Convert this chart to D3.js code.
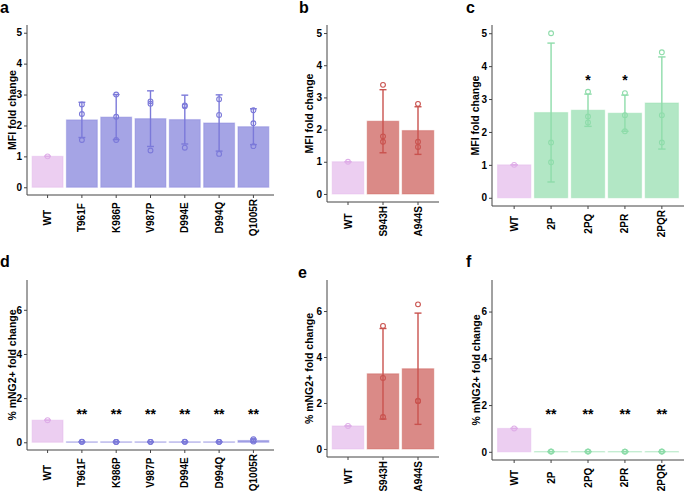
<!DOCTYPE html>
<html><head><meta charset="utf-8">
<script src="https://cdn.jsdelivr.net/npm/d3@7"></script>
<style>
body{margin:0;background:#fff}
svg{display:block}
text{font-family:"Liberation Sans",Arial,Helvetica,sans-serif;}
</style>
</head><body>
<svg id="chart" width="685" height="493"></svg>
<script>
// ---------- data ----------
const catsA = ["WT","T961F","K986P","V987P","D994E","D994Q","Q1005R"];
const catsB = ["WT","S943H","A944S"];
const catsC = ["WT","2P","2PQ","2PR","2PQR"];

const meanA = [1.00, 2.18, 2.27, 2.22, 2.19, 2.08, 1.96];
const sdA   = [0.00, 0.57, 0.73, 0.90, 0.79, 0.91, 0.58];
const ptsA  = [[1.00],[2.68,2.37,1.53],[3.00,2.28,1.53],[2.78,2.70,1.19],[2.65,2.62,1.28],[2.85,2.34,1.08],[2.49,2.07,1.33]];

const meanB = [1.00, 2.26, 1.97];
const sdB   = [0.00, 0.98, 0.74];
const ptsB  = [[1.00],[3.39,1.79,1.62],[2.80,1.62,1.46]];

const meanC = [1.00, 2.59, 2.66, 2.57, 2.88];
const sdC   = [0.00, 2.11, 0.49, 0.55, 1.40];
const ptsC  = [[1.00],[5.00,1.68,1.08],[3.22,2.47,2.29],[3.18,2.51,2.02],[4.42,2.51,1.68]];
const starsC = ["","","*","*",""];
const starYC = 3.66;

const meanD = [1.00, 0.02, 0.02, 0.02, 0.02, 0.02, 0.08];
const sdD   = [0.00, 0.01, 0.01, 0.01, 0.01, 0.01, 0.06];
const ptsD  = [[1.00],[0.02,0.02,0.03],[0.01,0.02,0.02],[0.02,0.02,0.02],[0.02,0.02,0.03],[0.02,0.02,0.02],[0.03,0.08,0.14]];
const starsD = ["","**","**","**","**","**","**"];
const starYD = 1.43;

const meanE = [1.00, 3.27, 3.49];
const sdE   = [0.00, 1.97, 2.42];
const ptsE  = [[1.00],[5.35,3.09,1.39],[6.29,2.10,2.08]];

const meanF = [1.00, 0.01, 0.01, 0.01, 0.01];
const sdF   = [0.00, 0.005, 0.005, 0.005, 0.005];
const ptsF  = [[1.00],[0.01,0.01,0.02],[0.01,0.01,0.02],[0.01,0.01,0.01],[0.01,0.02,0.01]];
const starsF = ["","**","**","**","**"];
const starYF = 1.76;

const ticksMFI = [0,1,2,3,4,5];
const ticksNG  = [0,2,4,6];
const titleMFI = "MFI fold change";
const titleNG  = "% mNG2+ fold change";

// ---------- styles ----------
const wtColor = "#dfaee8";
const blue = "#7b79d9", red = "#c9524e", green = "#8edcaa";

const panels = [
  {letter:"a", lx:0, ly:13, cats:catsA, mean:meanA, sd:sdA, pts:ptsA, stars:null, ymax:5, ticks:ticksMFI, title:titleMFI, tx:12, col:blue,  f:{x0:27, x1:274, y0:25, y1:195}},
  {letter:"b", lx:299, ly:13, cats:catsB, mean:meanB, sd:sdB, pts:ptsB, stars:null, ymax:5, ticks:ticksMFI, title:titleMFI, tx:309, col:red,   f:{x0:327, x1:439, y0:25, y1:202}},
  {letter:"c", lx:466, ly:13, cats:catsC, mean:meanC, sd:sdC, pts:ptsC, stars:starsC, starY:starYC, ymax:5, ticks:ticksMFI, title:titleMFI, tx:475, col:green, f:{x0:492, x1:684, y0:25, y1:206}},
  {letter:"d", lx:0, ly:267, cats:catsA, mean:meanD, sd:sdD, pts:ptsD, stars:starsD, starY:starYD, ymax:7, ticks:ticksNG, title:titleNG, tx:12, col:blue,  f:{x0:27, x1:274, y0:280, y1:450}},
  {letter:"e", lx:298, ly:278, cats:catsB, mean:meanE, sd:sdE, pts:ptsE, stars:null, ymax:7, ticks:ticksNG, title:titleNG, tx:309, col:red,   f:{x0:327, x1:439, y0:280, y1:457}},
  {letter:"f", lx:466, ly:267, cats:catsC, mean:meanF, sd:sdF, pts:ptsF, stars:starsF, starY:starYF, ymax:7, ticks:ticksNG, title:titleNG, tx:476, col:green, f:{x0:492, x1:684, y0:280, y1:460}}
];

const svg = d3.select("#chart");

panels.forEach(p => {
  const g = svg.append("g");
  const x = d3.scaleBand().domain(p.cats).range([p.f.x0, p.f.x1]).paddingInner(0.1).paddingOuter(0.15);
  const step = x.step();
  const y = d3.scaleLinear().domain([-0.05*p.ymax, 1.05*p.ymax]).range([p.f.y1, p.f.y0]);
  const cx = c => x(c) + x.bandwidth()/2;
  const colOf = i => i === 0 ? wtColor : p.col;

  const rows = p.cats.map((c,i) => ({c, i, m:p.mean[i], s:p.sd[i], pts:p.pts[i]}));

  // bars
  g.selectAll("rect.bar").data(rows).join("rect")
    .attr("x", d => x(d.c)).attr("width", x.bandwidth())
    .attr("y", d => y(d.m)).attr("height", d => Math.max(0.4, y(0) - y(d.m)))
    .attr("fill", d => colOf(d.i)).attr("fill-opacity", d => d.i===0 ? 0.6 : 0.68)
    .attr("stroke", d => colOf(d.i)).attr("stroke-opacity", 0.35).attr("stroke-width", 1.2);

  // error bars
  const cw = 0.2 * step;
  const eg = g.selectAll("g.err").data(rows).join("g").attr("stroke", d => colOf(d.i)).attr("stroke-width", 1.4).attr("fill","none");
  eg.append("line").attr("x1", d => cx(d.c)).attr("x2", d => cx(d.c)).attr("y1", d => y(d.m - d.s)).attr("y2", d => y(d.m + d.s));
  eg.append("line").attr("x1", d => cx(d.c)-cw/2).attr("x2", d => cx(d.c)+cw/2).attr("y1", d => y(d.m + d.s)).attr("y2", d => y(d.m + d.s));
  eg.append("line").attr("x1", d => cx(d.c)-cw/2).attr("x2", d => cx(d.c)+cw/2).attr("y1", d => y(d.m - d.s)).attr("y2", d => y(d.m - d.s));

  // points
  const pts = rows.flatMap(d => d.pts.map(v => ({c:d.c, i:d.i, v})));
  g.selectAll("circle.pt").data(pts).join("circle")
    .attr("cx", d => cx(d.c)).attr("cy", d => y(d.v)).attr("r", 2.4)
    .attr("fill","none").attr("stroke", d => colOf(d.i)).attr("stroke-width", 1.1);

  // stars
  if (p.stars) {
    g.selectAll("text.star").data(rows.filter(d => p.stars[d.i])).join("text")
      .attr("x", d => cx(d.c)).attr("y", y(p.starY) + 8)
      .attr("text-anchor","middle").attr("font-size", 14).attr("font-weight","bold")
      .attr("fill","#000").text(d => p.stars[d.i]);
  }

  // axes
  const ay = g.append("g").attr("transform", `translate(${p.f.x0},0)`)
    .call(d3.axisLeft(y).tickValues(p.ticks).tickFormat(d3.format("d")).tickSize(3).tickSizeOuter(0).tickPadding(2));
  ay.select(".domain").attr("d", `M0,${p.f.y0}V${p.f.y1}`);
  const ax = g.append("g").attr("transform", `translate(0,${p.f.y1})`)
    .call(d3.axisBottom(x).tickSize(3).tickSizeOuter(0));
  ax.select(".domain").attr("d", `M${p.f.x0},0H${p.f.x1}`);
  [ay, ax].forEach(a => {
    a.select(".domain").attr("stroke","#444").attr("stroke-width",1);
    a.selectAll(".tick line").attr("stroke","#444");
    a.selectAll(".tick text").attr("font-size", 10).attr("font-weight","bold").attr("fill","#000")
      .attr("font-family", '"Liberation Sans",Arial,sans-serif');
  });
  const xt = ax.selectAll(".tick text");
  let maxLen = 0;
  xt.each(function(){ maxLen = Math.max(maxLen, this.getComputedTextLength()); });
  xt.attr("transform","rotate(-90)").attr("text-anchor","middle")
    .attr("x", -(4 + maxLen/2)).attr("y", 0).attr("dy","0.35em");

  // axis title
  g.append("text")
    .attr("transform", `translate(${p.tx},${(p.f.y0+p.f.y1)/2}) rotate(-90)`)
    .attr("text-anchor","middle").attr("dy","0.35em")
    .attr("font-size", 10.5).attr("font-weight","bold").attr("fill","#000")
    .text(p.title);

  // panel letter
  svg.append("text").attr("x", p.lx).attr("y", p.ly)
    .attr("font-size", 16).attr("font-weight","bold").attr("fill","#000").text(p.letter);
});
</script>
</body></html>
